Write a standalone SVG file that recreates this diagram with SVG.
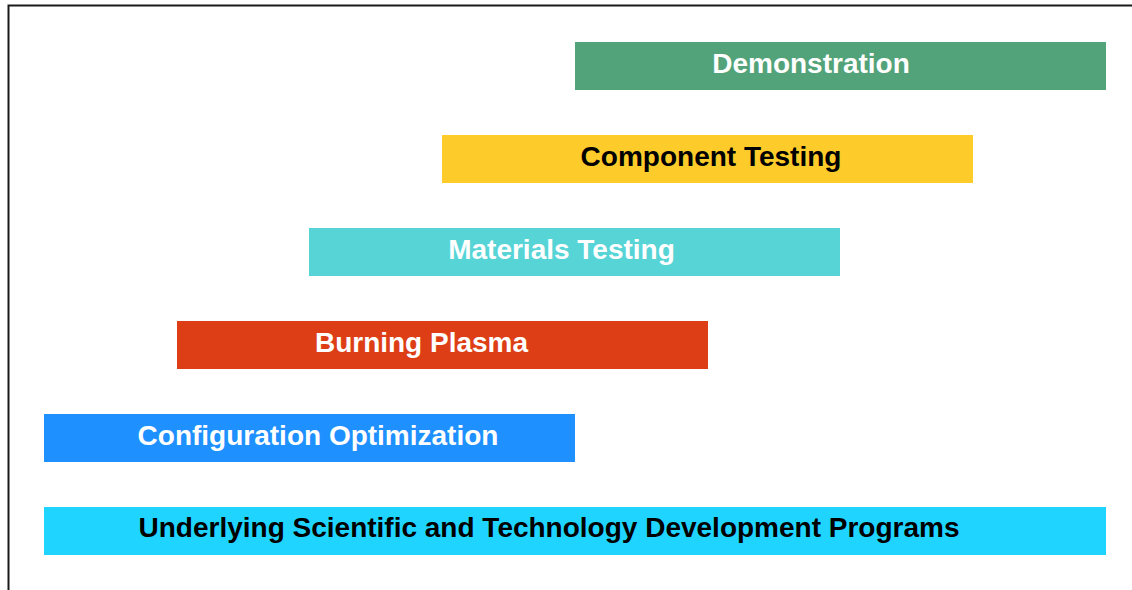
<svg xmlns="http://www.w3.org/2000/svg" width="1132" height="590" viewBox="0 0 1132 590">
<style>
.bar{stroke:none}
.lbl{font-family:"Liberation Sans",Arial,Helvetica,sans-serif;font-weight:bold;font-size:28px;text-anchor:middle}
.w{fill:#ffffff}
.k{fill:#000000}
</style>
<rect width="1132" height="590" fill="#ffffff"/>
<path d="M8.5,590 V5.5 H1132" fill="none" stroke="#1a1a1a" stroke-width="2"/>
<g id="demonstration">
<rect class="bar" x="575" y="42" width="531" height="48" fill="#53A37A"/>
<text class="lbl w" x="811" y="73">Demonstration</text>
</g>
<g id="component-testing">
<rect class="bar" x="442" y="135" width="531" height="48" fill="#FDCB2A"/>
<text class="lbl k" x="711" y="166">Component Testing</text>
</g>
<g id="materials-testing">
<rect class="bar" x="309" y="228" width="531" height="48" fill="#56D4D6"/>
<text class="lbl w" x="561.5" y="259">Materials Testing</text>
</g>
<g id="burning-plasma">
<rect class="bar" x="177" y="321" width="531" height="48" fill="#DD3E16"/>
<text class="lbl w" x="421.5" y="352">Burning Plasma</text>
</g>
<g id="configuration-optimization">
<rect class="bar" x="44" y="414" width="531" height="48" fill="#1E90FF"/>
<text class="lbl w" x="318" y="445">Configuration Optimization</text>
</g>
<g id="underlying-programs">
<rect class="bar" x="44" y="507" width="1062" height="48" fill="#1FD5FF"/>
<text class="lbl k" x="549" y="537">Underlying Scientific and Technology Development Programs</text>
</g>
<g id="connectors"></g>
</svg>
